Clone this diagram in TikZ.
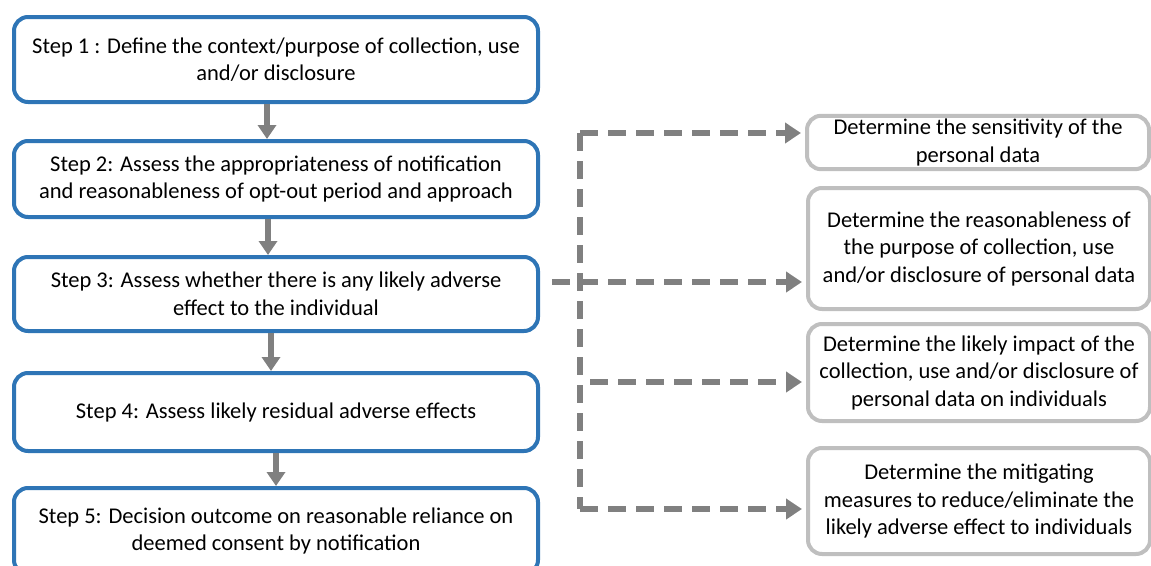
\documentclass[tikz,border=0pt]{standalone}
\definecolor{stepblue}{RGB}{46,117,182}
\definecolor{arrowgrey}{RGB}{128,128,128}
\definecolor{boxgrey}{RGB}{191,191,191}
\usepackage{fontspec}
\setmainfont{Carlito}
\usepackage{tikz}
\usetikzlibrary{arrows.meta}

\begin{document}
\begin{tikzpicture}[x=1pt,y=-1pt]

%
% Styles
%
\tikzstyle{stepbox}  = [rectangle,rounded corners=14pt,draw=stepblue,line width=4pt,fill=white,
                        minimum width=524pt,align=center,font=\fontsize{22.5}{27.5}\selectfont]
\tikzstyle{checkbox} = [rectangle,rounded corners=14pt,draw=boxgrey,line width=4pt,fill=white,
                        minimum width=342pt,align=center,font=\fontsize{22.5}{27.5}\selectfont]
\tikzstyle{edge}     = [-{Triangle[length=14pt,width=18pt]},line width=6pt,draw=arrowgrey]
\tikzstyle{dashedge} = [line width=6pt,draw=arrowgrey,dash pattern=on 18pt off 10pt]
\tikzstyle{dasharrow}= [dashedge,-{Triangle[length=16pt,width=20pt]},shorten >=4pt]

\useasboundingbox (0,0) rectangle (1151,565);

\node[stepbox,minimum height=85pt] (s1) at (276, 59.5) {Step 1 : Define the context/purpose of collection, use\\and/or disclosure};
\node[stepbox,minimum height=76pt] (s2) at (276,179)   {Step 2: Assess the appropriateness of notification\\and reasonableness of opt-out period and approach};
\node[stepbox,minimum height=74pt] (s3) at (276,294)   {Step 3: Assess whether there is any likely adverse\\effect to the individual};
\node[stepbox,minimum height=78pt] (s4) at (276,412)   {Step 4: Assess likely residual adverse effects};
\node[stepbox,minimum height=86pt] (s5) at (276,531)   {Step 5: Decision outcome on reasonable reliance on\\deemed consent by notification};

\node[checkbox,minimum height=51pt]  (r1) at (978,142.5) {Determine the sensitivity of the\\personal data};
\node[checkbox,minimum height=121pt] (r2) at (979,248.5) {Determine the reasonableness of\\the purpose of collection, use\\and/or disclosure of personal data};
\node[checkbox,minimum height=97pt]  (r3) at (979,372.5) {Determine the likely impact of the\\collection, use and/or disclosure of\\personal data on individuals};
\node[checkbox,minimum height=106pt] (r4) at (979,501)   {Determine the mitigating\\measures to reduce/eliminate the\\likely adverse effect to individuals};

\draw[edge] ([xshift=-9pt]s1.south) -- ([xshift=-9pt]s2.north);
\draw[edge] ([xshift=-8pt]s2.south) -- ([xshift=-8pt]s3.north);
\draw[edge] ([xshift=-5pt]s3.south) -- ([xshift=-5pt]s4.north);
\draw[edge] (s4) -- (s5);

\coordinate (top) at (580,133);
\coordinate (bot) at (580,509);
\coordinate (mid) at (552,282);
\coordinate (low) at (590,382);

\draw[dashedge]  (top) -- (bot);
\draw[dasharrow] (top) -- (top -| r1.west);
\draw[dasharrow] (mid) -- (mid -| r2.west);
\draw[dasharrow] (low) -- (low -| r3.west);
\draw[dasharrow] (bot) -- (bot -| r4.west);

\end{tikzpicture}
\end{document}
